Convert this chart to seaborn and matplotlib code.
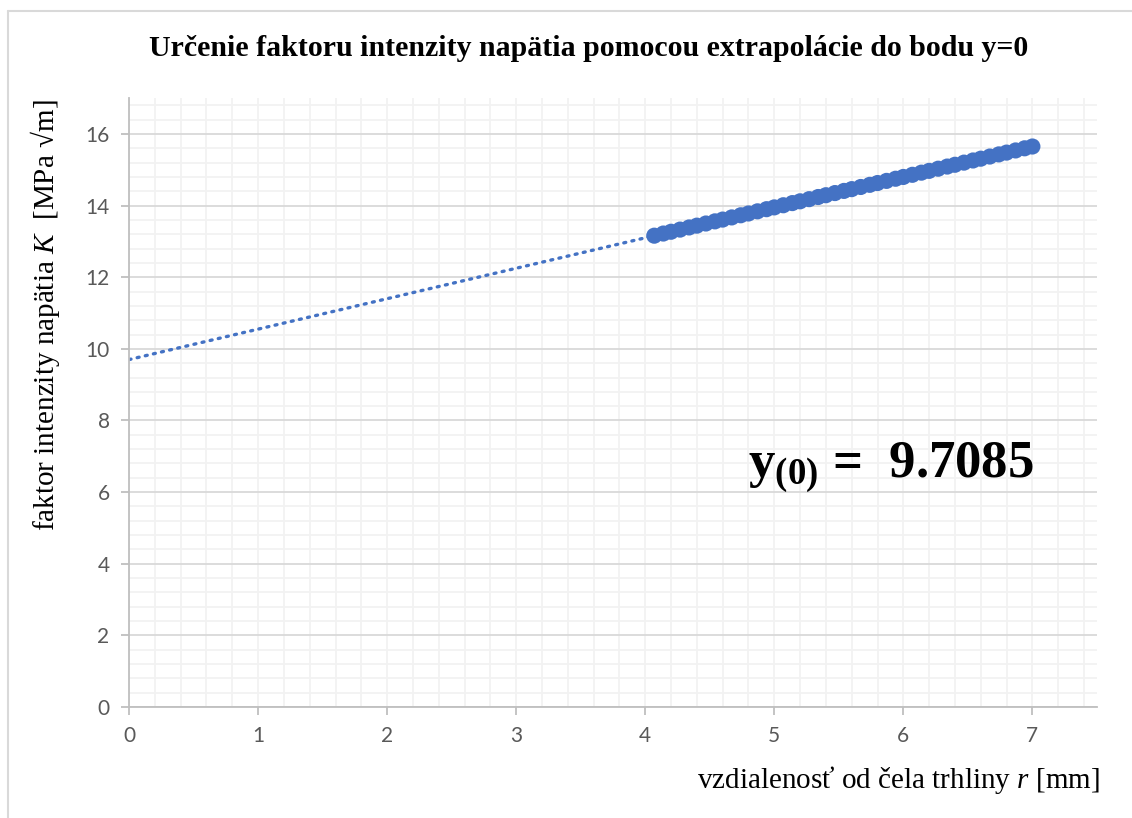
import numpy as np
import pandas as pd
import seaborn as sns
import matplotlib.pyplot as plt
from matplotlib.ticker import MultipleLocator

# data
r_mm = [4.07, 4.14, 4.20, 4.27, 4.34, 4.40, 4.47, 4.54, 4.60, 4.67,
        4.74, 4.80, 4.87, 4.94, 5.00, 5.07, 5.14, 5.20, 5.27, 5.34,
        5.40, 5.47, 5.54, 5.60, 5.67, 5.74, 5.80, 5.87, 5.94, 6.00,
        6.07, 6.14, 6.20, 6.27, 6.34, 6.40, 6.47, 6.54, 6.60, 6.67,
        6.74, 6.80, 6.87, 6.94, 7.00]
K_val = [13.16, 13.22, 13.27, 13.33, 13.39, 13.44, 13.50, 13.56, 13.61, 13.67,
         13.73, 13.78, 13.84, 13.90, 13.95, 14.01, 14.07, 14.12, 14.18, 14.24,
         14.29, 14.35, 14.41, 14.46, 14.52, 14.58, 14.63, 14.69, 14.75, 14.80,
         14.86, 14.92, 14.97, 15.03, 15.09, 15.14, 15.20, 15.26, 15.31, 15.37,
         15.43, 15.48, 15.54, 15.60, 15.65]
x_ticks = [0, 1, 2, 3, 4, 5, 6, 7]
y_ticks = [0, 2, 4, 6, 8, 10, 12, 14, 16]
y0_text = "9.7085"

df = pd.DataFrame({"r": r_mm, "K": K_val})

sns.set_theme(style="white")
plt.rcParams["font.family"] = ["Lato", "DejaVu Sans"]
plt.rcParams["text.color"] = "black"
plt.rcParams["mathtext.fontset"] = "custom"
plt.rcParams["mathtext.rm"] = "Liberation Serif"
plt.rcParams["mathtext.it"] = "Liberation Serif:italic"
plt.rcParams["mathtext.bf"] = "Liberation Serif:bold"

serif = ["Liberation Serif", "DejaVu Serif"]
blue = "#4472C4"

fig = plt.figure(figsize=(11.32, 8.18), dpi=100)
ax = fig.add_axes([0.114, 0.1357, 0.855, 0.7443])

# linear trendline (Excel style), extrapolated back to r = 0
slope, icpt = np.polyfit(df["r"], df["K"], 1)
trend = pd.DataFrame({"r": [0, max(r_mm)]})
trend["K"] = icpt + slope * trend["r"]
sns.lineplot(data=trend, x="r", y="K", ax=ax, color=blue, lw=2.4,
             linestyle=(0, (0.6, 1.9)), dash_capstyle="round", zorder=2)

sns.scatterplot(data=df, x="r", y="K", ax=ax, color=blue, s=135,
                edgecolor="none", linewidth=0, zorder=3)

ax.set_xlim(0, 7.5)
ax.set_ylim(0, 17)
ax.set_xticks(x_ticks)
ax.set_yticks(y_ticks)
ax.xaxis.set_minor_locator(MultipleLocator(0.2))
ax.yaxis.set_minor_locator(MultipleLocator(0.4))
ax.grid(axis="y", which="major", color="#D9D9D9", lw=1.3, zorder=0)
ax.grid(axis="x", which="major", color="#F2F2F2", lw=1.3, zorder=0)
ax.grid(which="minor", color="#F2F2F2", lw=1.3, zorder=0)
ax.set_axisbelow(True)

for s in ["top", "right"]:
    ax.spines[s].set_visible(False)
for s in ["left", "bottom"]:
    ax.spines[s].set_color("#BFBFBF")
    ax.spines[s].set_linewidth(1.3)
ax.tick_params(which="major", length=6, width=1.3, color="#BFBFBF",
               labelsize=15, labelcolor="#595959", pad=8, direction="out")
ax.tick_params(axis="both", which="major", bottom=True, left=True)
ax.set_xlabel("")
ax.set_ylabel("")

ax.text(4.8, 6.4, r"$\mathbf{y_{(0)}}$" + " =  " + y0_text,
        fontsize=38, fontweight="bold", family=serif, color="black",
        ha="left", va="baseline")

fig.text(0.52, 0.941, "Určenie faktoru intenzity napätia pomocou extrapolácie do bodu y=0",
         fontsize=21.5, fontweight="bold", family=serif, color="black",
         ha="center", va="center")
fig.text(0.972, 0.047, r"vzdialenosť od čela trhliny $\mathit{r}$ [mm]",
         fontsize=21, family=serif, color="black", ha="right", va="center")
fig.text(0.040, 0.615, r"faktor intenzity napätia $\mathit{K}$  [MPa √m]",
         fontsize=21, family=serif, color="black", ha="center", va="center",
         rotation=90)

# chart area border
fig.add_artist(plt.Line2D([0.0075, 0.0075], [0.0, 0.987], color="#D9D9D9", lw=1.5))
fig.add_artist(plt.Line2D([0.0075, 1.0], [0.987, 0.987], color="#D9D9D9", lw=1.5))

fig.savefig("out.png", dpi=100)
